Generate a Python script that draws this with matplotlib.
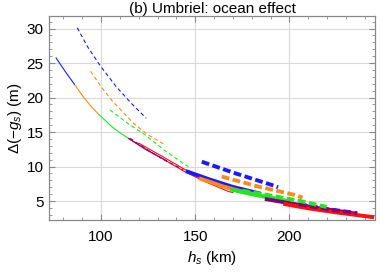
import matplotlib
matplotlib.use("Agg")
import matplotlib.pyplot as plt
from matplotlib.ticker import MultipleLocator

plt.rcParams['font.family'] = ['Liberation Sans', 'DejaVu Sans']
plt.rcParams['mathtext.fontset'] = 'custom'
plt.rcParams['mathtext.rm'] = 'Liberation Sans'
plt.rcParams['mathtext.it'] = 'Liberation Sans:italic'

# ---- data (h_s in km, Delta(-g_s) in m) ----
# thin solid
ts_blue_h = [76, 81.2, 86.2]
ts_blue_g = [25.8, 23.7, 21.8]
ts_orange_h = [86.2, 90.6, 94.5, 98.6]
ts_orange_g = [21.8, 20.1, 18.8, 17.6]
ts_green_h = [98.6, 105.7, 110, 114.5]
ts_green_g = [17.6, 15.8, 14.9, 14.1]
ts_purple_h = [114.5, 125, 135]
ts_purple_g = [14.1, 12.3, 10.8]
ts_red_h = [114.5, 123, 132.3, 144.8, 157, 167.6, 170.3]
ts_red_g = [14.1, 12.6, 11.2, 9.2, 7.6, 6.4, 6.2]
ts_red2_h = [120, 132, 145, 157, 170]
ts_red2_g = [13.4, 11.55, 9.5, 7.9, 6.5]
# thin dashed
td_blue_h = [87.4, 93, 99.6, 108, 116.3, 124]
td_blue_g = [30.1, 27.3, 24.6, 21.6, 19.1, 17.0]
td_orange_h = [94.5, 100, 105.7, 117.5, 125, 133.1]
td_orange_g = [23.8, 21.6, 19.6, 16.2, 14.6, 13.3]
td_green_h = [104.8, 114, 123.4, 133.5, 143.7, 146.4]
td_green_g = [18.2, 16.3, 14.6, 12.4, 10.45, 10.0]
td_purple_h = [115.4, 125.1, 134, 143.7]
td_purple_g = [14.1, 12.35, 10.9, 9.55]
# thick solid
ks_blue_h = [145, 158, 170, 185]
ks_blue_g = [9.35, 8.1, 7.05, 6.05]
ks_orange_h = [152, 157.3, 165, 174.7, 190]
ks_orange_g = [8.3, 7.83, 7.1, 6.4, 5.45]
ks_green_h = [168.6, 180, 190, 200]
ks_green_g = [6.7, 6.0, 5.5, 4.95]
ks_purple_h = [187, 200, 215, 236]
ks_purple_g = [5.3, 4.7, 4.0, 3.15]
ks_red_h = [196.8, 210, 225, 245]
ks_red_g = [4.6, 3.95, 3.35, 2.65]
# thick dashed
kd_blue_h = [153.5, 171.2, 190.7, 194]
kd_blue_g = [10.7, 9.03, 7.33, 7.0]
kd_orange_h = [164.1, 183.5, 202.9, 207]
kd_orange_g = [8.55, 7.1, 5.88, 5.5]
kd_green_h = [175, 190, 205, 219.8]
kd_green_g = [6.5, 5.8, 5.05, 4.15]
kd_purple_h = [205, 220, 236]
kd_purple_g = [4.55, 3.85, 3.25]

BLUE, ORANGE, GREEN, PURPLE, RED = '#1a1aff', '#ff8a1a', '#22e622', '#800080', '#ff1010'

fig = plt.figure(figsize=(3.8, 2.73), dpi=100)
ax = fig.add_axes([0.129, 0.194, 0.858, 0.747])

thin = 0.8
thick = 2.8
thin_dash = (3.5, 2.5)
thick_dash = (2.0, 0.9)

for h, g, c in [(ts_blue_h, ts_blue_g, BLUE), (ts_orange_h, ts_orange_g, ORANGE),
                (ts_green_h, ts_green_g, GREEN), (ts_red_h, ts_red_g, RED),
                (ts_purple_h, ts_purple_g, PURPLE), (ts_red2_h, ts_red2_g, RED)]:
    ax.plot(h, g, color=c, lw=thin, solid_capstyle='butt')

for h, g, c in [(td_blue_h, td_blue_g, BLUE), (td_orange_h, td_orange_g, ORANGE),
                (td_green_h, td_green_g, GREEN), (td_purple_h, td_purple_g, PURPLE)]:
    ax.plot(h, g, color=c, lw=thin, dashes=thin_dash)

for h, g, c in [(ks_blue_h, ks_blue_g, BLUE), (ks_orange_h, ks_orange_g, ORANGE),
                (ks_green_h, ks_green_g, GREEN), (ks_purple_h, ks_purple_g, PURPLE),
                (ks_red_h, ks_red_g, RED)]:
    ax.plot(h, g, color=c, lw=thick, solid_capstyle='butt')

for h, g, c in [(kd_blue_h, kd_blue_g, BLUE), (kd_orange_h, kd_orange_g, ORANGE),
                (kd_purple_h, kd_purple_g, PURPLE), (kd_green_h, kd_green_g, GREEN)]:
    ax.plot(h, g, color=c, lw=thick, dashes=thick_dash)

ax.set_xlim(72.4, 245.5)
ax.set_ylim(2.25, 31.8)
ax.xaxis.set_major_locator(MultipleLocator(50))
ax.xaxis.set_minor_locator(MultipleLocator(10))
ax.yaxis.set_major_locator(MultipleLocator(5))
ax.yaxis.set_minor_locator(MultipleLocator(1))
ax.grid(True, which='major', color='#d9d9d9', lw=0.8)
ax.set_axisbelow(True)
for s in ax.spines.values():
    s.set_color('#888888')
    s.set_linewidth(0.9)
ax.tick_params(which='both', direction='in', top=True, right=True, color='#888888',
               labelsize=11, labelcolor='black')
ax.tick_params(axis='x', pad=7)
ax.tick_params(axis='y', pad=4)
ax.tick_params(which='major', length=4, width=0.8)
ax.tick_params(which='minor', length=2, width=0.6)

ax.set_title('(b) Umbriel: ocean effect', fontsize=11, pad=2)
ax.set_xlabel(r'$\it{h}_s$ (km)', fontsize=11, labelpad=4)
ax.set_ylabel(r'$\Delta(-\it{g}_s)$ (m)', fontsize=11, labelpad=2)

fig.savefig('out.png', dpi=100)
